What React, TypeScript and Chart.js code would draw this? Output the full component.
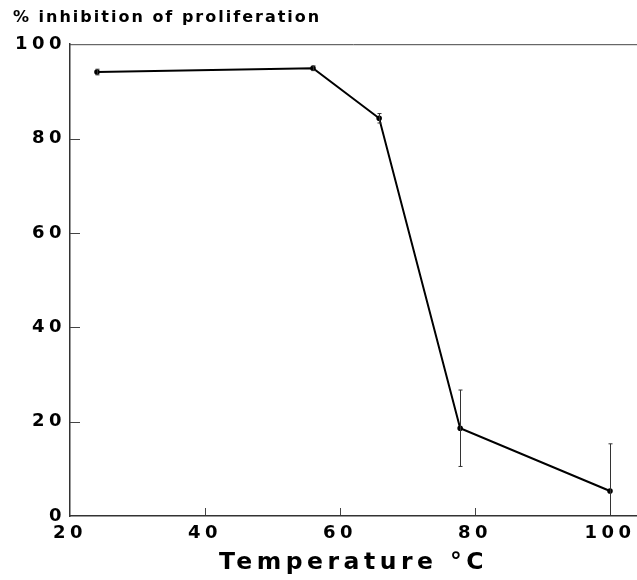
import React, { useEffect, useRef } from "react";
import { Chart, registerables } from "chart.js";

Chart.register(...registerables);

const TEMPERATURES = [24, 56, 65.8, 77.8, 100];
const INHIBITION = [94.1, 94.9, 84.3, 18.6, 5.3];
const ERRORS = [0.6, 0.5, 1, 8.1, 10];
const X_TICKS = [20, 40, 60, 80, 100];
const Y_TICKS = [0, 20, 40, 60, 80, 100];
const TITLE = "% inhibition of proliferation";
const X_TITLE = "Temperature °C";

const TICK_SPACING = "4.5px";
const TITLE_SPACING = "2px";

const stylePlugin = {
  id: "stylePlugin",
  beforeUpdate(chart: any) {
    chart.ctx.letterSpacing = TICK_SPACING;
  },
  beforeDraw(chart: any) {
    chart.ctx.letterSpacing = TITLE_SPACING;
  },
  beforeDatasetsDraw(chart: any) {
    const { ctx, chartArea: a, scales } = chart;
    const x = scales.x;
    const y = scales.y;
    ctx.save();
    ctx.strokeStyle = "#444";
    ctx.lineWidth = 1;
    ctx.beginPath();
    ctx.moveTo(a.left, a.top + 0.5);
    ctx.lineTo(a.right, a.top + 0.5);
    X_TICKS.forEach((v) => {
      if (v > X_TICKS[0] && v < X_TICKS[X_TICKS.length - 1]) {
        const px = Math.round(x.getPixelForValue(v)) + 0.5;
        ctx.moveTo(px, a.bottom);
        ctx.lineTo(px, a.bottom - 8);
      }
    });
    Y_TICKS.forEach((v) => {
      if (v > Y_TICKS[0] && v < Y_TICKS[Y_TICKS.length - 1]) {
        const py = Math.round(y.getPixelForValue(v)) + 0.5;
        ctx.moveTo(a.left, py);
        ctx.lineTo(a.left + 10, py);
      }
    });
    ctx.stroke();
    ctx.restore();
  },
  afterDatasetsDraw(chart: any) {
    const { ctx, chartArea: a, scales } = chart;
    const x = scales.x;
    const y = scales.y;
    ctx.save();
    ctx.beginPath();
    ctx.rect(a.left, a.top, a.right - a.left, a.bottom - a.top);
    ctx.clip();
    ctx.strokeStyle = "#333";
    ctx.lineWidth = 1;
    ctx.beginPath();
    TEMPERATURES.forEach((t, i) => {
      const px = Math.round(x.getPixelForValue(t)) + 0.5;
      const top = y.getPixelForValue(INHIBITION[i] + ERRORS[i]);
      const bot = y.getPixelForValue(INHIBITION[i] - ERRORS[i]);
      ctx.moveTo(px, top);
      ctx.lineTo(px, bot);
      ctx.moveTo(px - 2, top);
      ctx.lineTo(px + 2, top);
      ctx.moveTo(px - 2, bot);
      ctx.lineTo(px + 2, bot);
    });
    ctx.stroke();
    ctx.restore();
    ctx.letterSpacing = TICK_SPACING;
  },
};

export default function App() {
  const canvasRef = useRef<HTMLCanvasElement | null>(null);

  useEffect(() => {
    if (!canvasRef.current) return;
    const chart = new Chart(canvasRef.current, {
      type: "line",
      data: {
        datasets: [
          {
            data: TEMPERATURES.map((t, i) => ({ x: t, y: INHIBITION[i] })),
            borderColor: "#000",
            backgroundColor: "#000",
            borderWidth: 2,
            pointRadius: 1.8,
            pointHoverRadius: 1.8,
            tension: 0,
          },
        ],
      },
      options: {
        animation: false,
        responsive: false,
        layout: { autoPadding: false, padding: { left: 13, right: 0, top: 0, bottom: 0 } },
        plugins: {
          legend: { display: false },
          tooltip: { enabled: false },
          title: {
            display: true,
            text: TITLE,
            align: "start",
            color: "#000",
            font: { family: "'DejaVu Sans'", size: 16, weight: "bold" },
            padding: { top: 8, bottom: 17 },
          },
        },
        scales: {
          x: {
            type: "linear",
            min: 20,
            max: 104,
            afterBuildTicks: (scale: any) => {
              scale.ticks = X_TICKS.map((v) => ({ value: v }));
            },
            afterFit: (scale: any) => {
              scale.height = 64;
              scale.paddingLeft = 0;
              scale.paddingRight = 0;
            },
            grid: { display: false, drawTicks: false, z: 1 },
            border: { display: true, color: "#333", width: 1.5, z: 1 },
            ticks: {
              z: 1,
              padding: 7,
              color: "#000",
              autoSkip: false,
              maxRotation: 0,
              font: { family: "'DejaVu Sans'", size: 18, weight: "bold" },
            },
            title: {
              display: true,
              text: X_TITLE,
              color: "#000",
              font: { family: "'DejaVu Sans'", size: 23.5, weight: "bold" },
              padding: { top: 0, bottom: 3 },
            },
          },
          y: {
            type: "linear",
            min: 0,
            max: 100,
            afterBuildTicks: (scale: any) => {
              scale.ticks = Y_TICKS.map((v) => ({ value: v }));
            },
            afterFit: (scale: any) => {
              scale.width = 57;
            },
            grid: { display: false, drawTicks: false },
            border: { display: true, color: "#333", width: 1.5 },
            ticks: {
              z: 1,
              padding: 4,
              color: "#000",
              font: { family: "'DejaVu Sans'", size: 18, weight: "bold" },
            },
          },
        },
      },
      plugins: [stylePlugin],
    });
    return () => chart.destroy();
  }, []);

  return (
    <div style={{ position: "absolute", left: 0, top: 0, width: 637, height: 580 }}>
      <canvas ref={canvasRef} width={637} height={580} />
    </div>
  );
}
